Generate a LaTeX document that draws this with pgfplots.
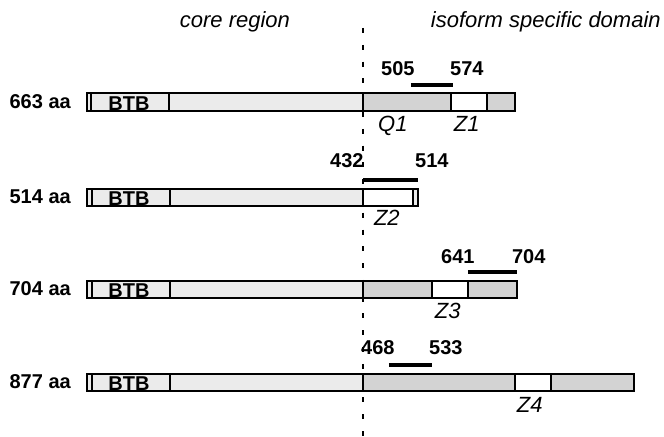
\documentclass[border=0pt]{standalone}
\usepackage{pgfplots}
\pgfplotsset{compat=1.18}
\usepackage{fontspec}
\setmainfont{Liberation Sans}

\definecolor{corefill}{HTML}{EBEBEB}
\definecolor{isofill}{HTML}{D3D3D3}

% one box of a protein bar: \seg{x1}{x2}{ytop}{ybottom}{fill}
\newcommand{\seg}[5]{%
  \addplot[draw=black, line width=1.8pt, fill=#5, line join=miter]
    coordinates {(#1,#3) (#2,#3) (#2,#4) (#1,#4)} -- cycle;}
% thick black line over a region
\newcommand{\regline}[3]{%
  \addplot[black, line width=4pt] coordinates {(#1,#3) (#2,#3)};}

\begin{document}
\begin{tikzpicture}
\begin{axis}[
    scale only axis,
    width=664pt, height=436pt,
    xmin=0, xmax=664, ymin=0, ymax=436,
    y dir=reverse,
    hide axis,
    clip=false,
]
\addplot[draw=none] coordinates {(0,0) (664,436)};

% 663 aa
\seg{87}{91}{93}{111}{corefill}
\seg{91}{169}{93}{111}{corefill}
\seg{169}{363}{93}{111}{corefill}
\seg{363}{451}{93}{111}{isofill}
\seg{451}{487}{93}{111}{white}
\seg{487}{515}{93}{111}{isofill}
\regline{411}{453}{85}

% 514 aa
\seg{87}{92}{189}{206}{corefill}
\seg{92}{170}{189}{206}{corefill}
\seg{170}{363}{189}{206}{corefill}
\seg{363}{413}{189}{206}{white}
\seg{413}{418}{189}{206}{corefill}
\regline{363}{418}{180}

% 704 aa
\seg{87}{92}{281}{298}{corefill}
\seg{92}{170}{281}{298}{corefill}
\seg{170}{363}{281}{298}{corefill}
\seg{363}{432}{281}{298}{isofill}
\seg{432}{468}{281}{298}{white}
\seg{468}{517}{281}{298}{isofill}
\regline{468}{517}{272}

% 877 aa
\seg{87}{92}{374}{391}{corefill}
\seg{92}{170}{374}{391}{corefill}
\seg{170}{363}{374}{391}{corefill}
\seg{363}{515}{374}{391}{isofill}
\seg{515}{551}{374}{391}{white}
\seg{551}{634}{374}{391}{isofill}
\regline{389}{432}{365}

% boundary core / isoform specific
\addplot[black, line width=2pt, dash pattern=on 5pt off 11.8pt]
  coordinates {(363,28) (363,436)};

% titles
\node[anchor=base, font=\fontsize{22}{26}\selectfont\itshape] at (axis cs:235,28) {core region};
\node[anchor=base, font=\fontsize{22}{26}\selectfont\itshape] at (axis cs:546,28) {isoform specific domain};

% row labels
\begin{scope}[every node/.style={font=\fontsize{20}{24}\selectfont\bfseries, inner sep=0pt}]
\node[anchor=east] at (axis cs:71,102) {663 aa};
\node[anchor=east] at (axis cs:71,197) {514 aa};
\node[anchor=east] at (axis cs:71,289) {704 aa};
\node[anchor=east] at (axis cs:71,382) {877 aa};
\node[anchor=base] at (axis cs:129,111) {BTB};
\node[anchor=base] at (axis cs:129,206) {BTB};
\node[anchor=base] at (axis cs:129,298) {BTB};
\node[anchor=base] at (axis cs:129,391) {BTB};
\node[anchor=base] at (axis cs:398,76) {505};
\node[anchor=base] at (axis cs:467,76) {574};
\node[anchor=base] at (axis cs:347,168) {432};
\node[anchor=base] at (axis cs:432,168) {514};
\node[anchor=base] at (axis cs:458,264) {641};
\node[anchor=base] at (axis cs:529,264) {704};
\node[anchor=base] at (axis cs:378,355) {468};
\node[anchor=base] at (axis cs:446,355) {533};
\end{scope}

% domain names
\begin{scope}[every node/.style={font=\fontsize{22}{26}\selectfont\itshape, inner sep=0pt, anchor=base}]
\node at (axis cs:393,132) {Q1};
\node at (axis cs:467,132) {Z1};
\node at (axis cs:387,226) {Z2};
\node at (axis cs:448,319) {Z3};
\node at (axis cs:530,413) {Z4};
\end{scope}
\end{axis}
\end{tikzpicture}
\end{document}
